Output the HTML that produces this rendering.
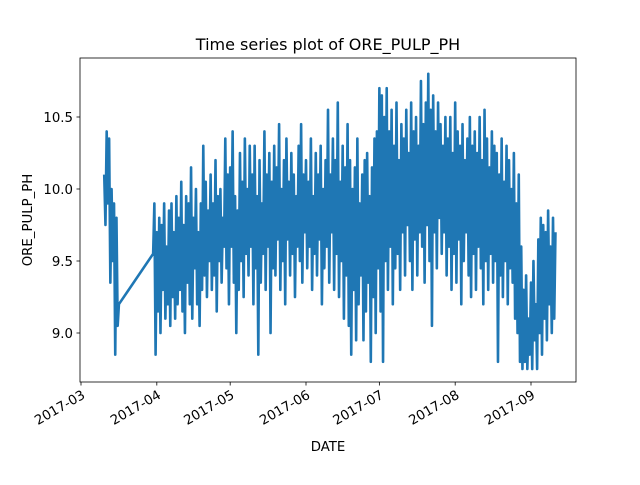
<!DOCTYPE html>
<html><head><meta charset="utf-8"><style>
body{margin:0;background:#fff}
text{font-family:"DejaVu Sans","Liberation Sans",sans-serif;fill:#000}
</style></head><body>
<svg id="chart" width="640" height="480" viewBox="0 0 640 480">
<rect width="640" height="480" fill="#fff"/>
<text x="328" y="50" font-size="16" text-anchor="middle">Time series plot of ORE_PULP_PH</text>
<text transform="translate(32,220) rotate(-90)" font-size="13.3" text-anchor="middle">ORE_PULP_PH</text>
<text x="328" y="451" font-size="13.3" text-anchor="middle">DATE</text>
<g id="plot"></g>
<g id="axes"></g>
</svg>
<script>
const seg1Start = 9.5; // day offset from Mar 1
const seg1Values = [10.1,9.75,10.4,9.9,10.35,9.35,10.0,9.5,9.9,8.85,9.8,9.05,9.2];
const seg2Start = 29.5;
const seg2Values = [
9.55,9.9,8.85,9.7,9.15,9.8,9.0,9.75,9.3,9.9,9.1,9.6,9.2,9.85,9.05,9.9,9.25,9.7,9.1,9.95,
9.2,9.8,9.3,10.05,9.15,9.75,9.0,9.95,9.35,9.9,9.2,10.15,9.1,9.8,9.45,10.0,9.2,9.7,9.05,9.9,
9.3,10.3,9.4,10.05,9.25,9.85,9.5,10.1,9.3,9.9,9.4,10.2,9.15,9.95,9.5,10.0,9.35,9.8,9.6,10.35,
9.45,10.1,9.2,10.15,9.6,10.4,9.35,9.95,9.0,9.85,9.3,10.25,9.5,10.05,9.25,10.35,9.55,10.0,9.4,10.3,
9.6,10.1,9.2,10.3,9.45,9.95,8.85,10.2,9.35,9.9,9.55,10.4,9.3,10.1,9.6,10.25,9.0,10.05,9.45,10.3,
9.4,10.15,9.65,10.45,9.3,10.0,9.5,10.2,9.2,10.35,9.65,10.05,9.4,10.25,9.55,10.1,9.25,9.95,9.6,10.3,
9.5,10.45,9.35,10.1,9.7,10.2,9.45,10.05,9.6,10.35,9.3,9.95,9.55,10.25,9.4,10.1,9.65,10.3,9.2,10.0,
9.45,10.2,9.6,10.55,9.35,10.1,9.7,10.35,9.3,10.2,9.55,10.6,9.25,10.05,9.5,10.3,9.1,10.15,9.4,10.45,
9.05,10.2,8.85,10.0,9.3,10.15,8.95,10.35,9.2,9.9,9.4,10.1,8.95,10.2,9.15,10.25,9.35,9.95,8.8,10.15,
9.25,10.35,9.0,10.4,9.45,10.7,9.15,10.65,8.8,10.5,9.5,10.7,9.3,10.4,9.6,10.55,9.2,10.3,9.45,10.6,
9.55,10.2,9.3,10.45,9.7,10.35,9.4,10.55,9.75,10.25,9.5,10.6,9.3,10.4,9.65,10.5,9.4,10.3,9.7,10.75,
9.6,10.45,9.35,10.6,9.75,10.8,9.5,10.55,9.05,10.65,9.7,10.4,9.45,10.6,9.8,10.45,9.55,10.3,9.7,10.5,
9.4,10.35,9.6,10.5,9.3,10.25,9.55,10.6,9.35,10.4,9.65,10.3,9.2,10.45,9.5,10.2,9.7,10.35,9.4,10.5,
9.25,10.3,9.55,10.4,9.3,10.25,9.6,10.5,9.45,10.2,9.2,10.55,9.5,10.35,9.3,10.15,9.55,10.4,9.35,10.3,
9.5,10.25,8.8,10.1,9.4,10.35,9.25,10.05,9.5,10.3,9.2,10.2,9.45,10.0,9.35,10.25,9.1,9.9,9.0,10.1,
8.8,9.6,8.75,9.3,8.8,9.4,8.75,9.1,8.85,9.35,8.75,9.5,8.95,9.2,8.75,9.65,9.0,9.8,8.85,9.75,
9.1,9.7,8.95,9.85,9.2,9.6,9.0,9.8,9.1,9.7
];
const xTickLabels = ["2017-03","2017-04","2017-05","2017-06","2017-07","2017-08","2017-09"];
const xTickDays = [0,31,61,92,122,153,184];
const yTickValues = [9.0,9.5,10.0,10.5];
const yTickLabels = ["9.0","9.5","10.0","10.5"];

const L=80,R=576,T=58,B=382;
const X0=81, PXDAY=(531-81)/184;
function xs(d){return X0+d*PXDAY;}
function ys(v){return 189-(v-10)*144;}
const NS="http://www.w3.org/2000/svg";
const plot=document.getElementById('plot'), axes=document.getElementById('axes');

let pts=[];
seg1Values.forEach((v,i)=>pts.push(xs(seg1Start+i*0.5).toFixed(2)+","+ys(v).toFixed(2)));
seg2Values.forEach((v,i)=>pts.push(xs(seg2Start+i*0.5).toFixed(2)+","+ys(v).toFixed(2)));
const line=document.createElementNS(NS,'polyline');
line.setAttribute('points',pts.join(' '));
line.setAttribute('fill','none');
line.setAttribute('stroke','#1f77b4');
line.setAttribute('stroke-width','2.6');
line.setAttribute('stroke-linejoin','round');


plot.appendChild(line);

const frame=document.createElementNS(NS,'rect');
frame.setAttribute('x',L);frame.setAttribute('y',T);frame.setAttribute('width',R-L);frame.setAttribute('height',B-T);
frame.setAttribute('fill','none');frame.setAttribute('stroke','#000');frame.setAttribute('stroke-width','0.8');


axes.appendChild(frame);

xTickDays.forEach((d,i)=>{
  const x=xs(d);
  const t=document.createElementNS(NS,'line');
  t.setAttribute('x1',x);t.setAttribute('x2',x);t.setAttribute('y1',B);t.setAttribute('y2',B+3.5);
  t.setAttribute('stroke','#000');t.setAttribute('stroke-width','0.8');
  
  
  axes.appendChild(t);
  const tx=document.createElementNS(NS,'text');
  tx.setAttribute('transform','translate('+(x+3)+','+(B+12)+') rotate(-30)');
  tx.setAttribute('text-anchor','end');tx.setAttribute('font-size','13.3');
  tx.setAttribute('dominant-baseline','middle');
  tx.textContent=xTickLabels[i];
  
  
  axes.appendChild(tx);
});
yTickValues.forEach((v,i)=>{
  const y=ys(v);
  const t=document.createElementNS(NS,'line');
  t.setAttribute('x1',L-3.5);t.setAttribute('x2',L);t.setAttribute('y1',y);t.setAttribute('y2',y);
  t.setAttribute('stroke','#000');t.setAttribute('stroke-width','0.8');
  
  
  axes.appendChild(t);
  const tx=document.createElementNS(NS,'text');
  tx.setAttribute('x',L-7);tx.setAttribute('y',y+5);
  tx.setAttribute('text-anchor','end');tx.setAttribute('font-size','13.3');
  tx.textContent=yTickLabels[i];
  
  
  axes.appendChild(tx);
});
</script>
</body></html>
